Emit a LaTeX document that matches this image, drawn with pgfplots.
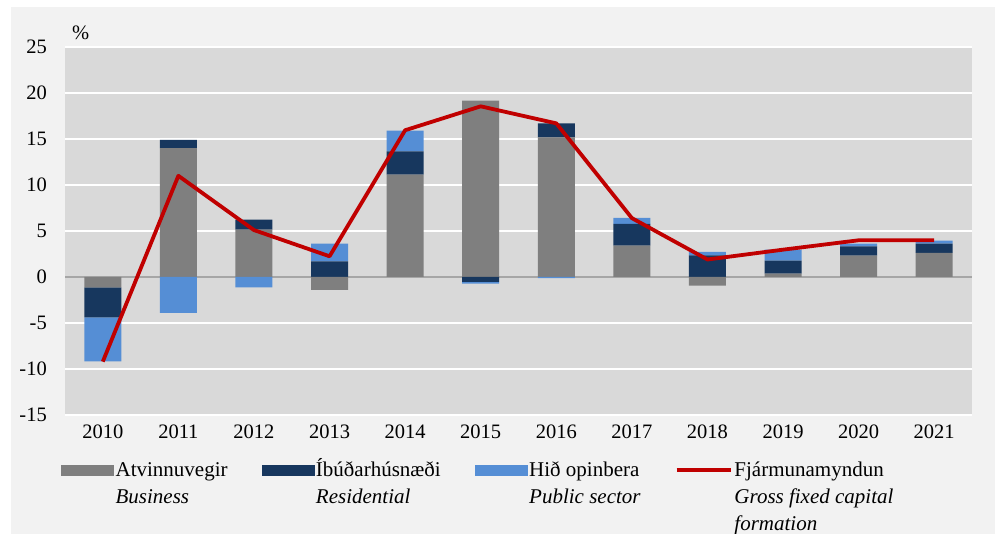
\documentclass[border=0pt]{standalone}
\usepackage{pgfplots}
\pgfplotsset{compat=1.18}
\usepackage{pgfplotstable}
\usepackage{fontspec}
\setmainfont{Liberation Serif}
\definecolor{bgout}{HTML}{F2F2F2}
\definecolor{bgplot}{HTML}{D9D9D9}
\definecolor{cbus}{HTML}{7F7F7F}
\definecolor{cres}{HTML}{17375E}
\definecolor{cpub}{HTML}{558ED5}
\definecolor{cline}{HTML}{C00000}
\definecolor{zline}{HTML}{A6A6A6}

% positive and negative parts of each contribution, stacked separately
\pgfplotstableread{
x posB posR posP negB negR negP
0 0 0 0 -1.12 -3.26 -4.78
1 14.0 0.9 0 0 0 -3.9
2 5.14 1.09 0 0 0 -1.12
3 0 1.70 1.92 -1.41 0 0
4 11.12 2.54 2.25 0 0 0
5 19.17 0 0 0 -0.54 -0.18
6 15.18 1.52 0 0 0 -0.12
7 3.41 2.36 0.65 0 0 0
8 0 2.36 0.36 -0.94 0 0
9 0.36 1.41 1.2 0 0 0
10 2.32 1.01 0.3 0 0 0
11 2.61 1.01 0.33 0 0 0
}\bars

\pgfplotstableread{
x total
0 -9.2
1 11.0
2 5.1
3 2.25
4 15.95
5 18.55
6 16.7
7 6.4
8 1.9
9 2.97
10 3.99
11 4.0
}\gfcf

\begin{document}
\begin{tikzpicture}
\useasboundingbox (0pt,0pt) rectangle (997pt,534pt);
\fill[white] (0pt,0pt) rectangle (997pt,534pt);
\fill[bgout] (11pt,0pt) rectangle (995pt,527pt);
\pgfplotsset{base/.style={
  at={(65pt,119pt)}, anchor=south west,
  scale only axis, width=907pt, height=368pt,
  xmin=-0.5, xmax=11.5, ymin=-15, ymax=25,
  clip=false,
}}
% axis with background, grid, labels and the positive parts
\begin{axis}[base,
  ybar stacked, bar width=37pt,
  axis background/.style={fill=bgplot},
  axis line style={draw=none},
  major tick length=0pt,
  ytick={-15,-10,-5,0,5,10,15,20,25},
  yticklabels={-15,-10,-5,0,5,10,15,20,25},
  xtick={0,1,2,3,4,5,6,7,8,9,10,11},
  xticklabels={2010,2011,2012,2013,2014,2015,2016,2017,2018,2019,2020,2021},
  ymajorgrids, major grid style={white, line width=1.5pt},
  extra y ticks={0}, extra y tick labels={},
  extra y tick style={grid=major, major grid style={zline, line width=1.2pt}},
  /pgf/number format/assume math mode=true,
  yticklabel style={font=\fontsize{20.5}{24}\selectfont, inner sep=0pt, xshift=-18pt},
  xticklabel style={font=\fontsize{20.5}{24}\selectfont, inner sep=0pt, yshift=-10pt},
]
\addplot[fill=cbus, draw=none] table[x=x,y=posB]{\bars};
\addplot[fill=cres, draw=none] table[x=x,y=posR]{\bars};
\addplot[fill=cpub, draw=none] table[x=x,y=posP]{\bars};
\node[anchor=base west, inner sep=0pt, xshift=7pt, yshift=7pt, font=\fontsize{20.5}{24}\selectfont] at (rel axis cs:0,1) {\%};
\end{axis}
% negative parts
\begin{axis}[base, hide axis, ybar stacked, bar width=37pt]
\addplot[fill=cbus, draw=none] table[x=x,y=negB]{\bars};
\addplot[fill=cres, draw=none] table[x=x,y=negR]{\bars};
\addplot[fill=cpub, draw=none] table[x=x,y=negP]{\bars};
\end{axis}
% total line and legend
\begin{axis}[base, hide axis,
  legend columns=4,
  legend style={at={(rel axis cs:0,0)}, anchor=north west, xshift=-4pt, yshift=-40pt,
    draw=none, fill=none, inner sep=0pt,
    font=\fontsize{21}{27}\selectfont,
    cells={anchor=base west},
    /tikz/every even column/.append style={column sep=32pt}},
]
\addlegendimage{legend image code/.code={\fill[cbus] (0pt,1pt) rectangle (52pt,11pt);}}
\addlegendentry{\begin{tabular}[t]{@{}l@{}}Atvinnuvegir\\\textit{Business}\end{tabular}}
\addlegendimage{legend image code/.code={\fill[cres] (0pt,1pt) rectangle (52pt,11pt);}}
\addlegendentry{\begin{tabular}[t]{@{}l@{}}Íbúðarhúsnæði\\\textit{Residential}\end{tabular}}
\addlegendimage{legend image code/.code={\fill[cpub] (0pt,1pt) rectangle (52pt,11pt);}}
\addlegendentry{\begin{tabular}[t]{@{}l@{}}Hið opinbera\\\textit{Public sector}\end{tabular}}
\addplot[cline, line width=3.8pt, line join=round,
  legend image code/.code={\draw[cline, line width=3.8pt] (0pt,6pt) -- (54pt,6pt);}]
  table[x=x,y=total]{\gfcf};
\addlegendentry{\begin{tabular}[t]{@{}l@{}}Fjármunamyndun\\\textit{Gross fixed capital}\\\textit{formation}\end{tabular}}
\end{axis}
\end{tikzpicture}
\end{document}
